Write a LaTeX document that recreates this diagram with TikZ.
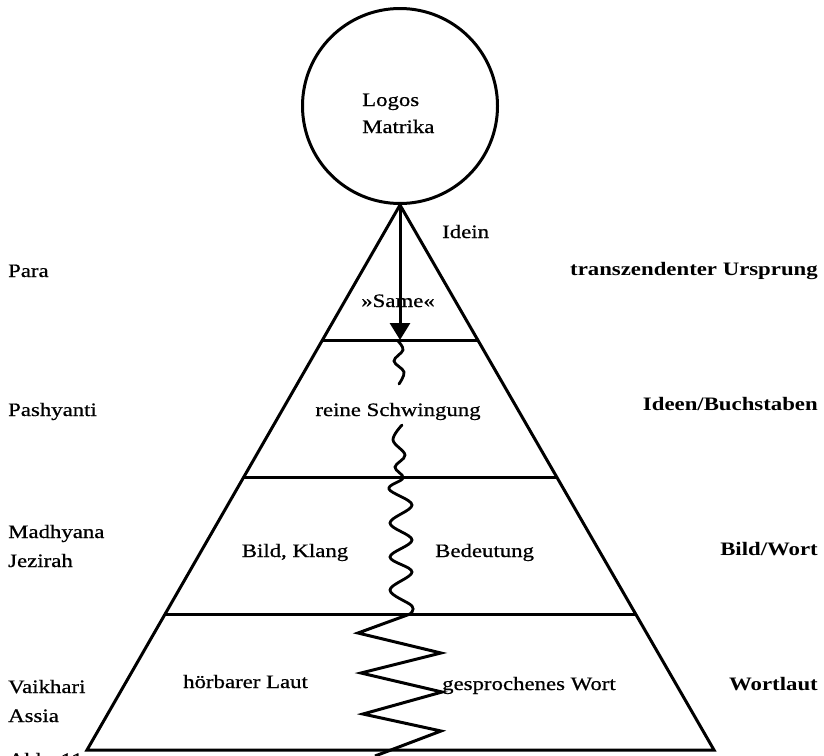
\documentclass[tikz,border=0pt]{standalone}
\usepackage{fontspec}
\setmainfont[FakeStretch=1.2]{Liberation Serif}
\newfontfamily\medfont[FakeStretch=1.2, FakeBold=0.7]{Liberation Serif}
\usetikzlibrary{arrows.meta}
\begin{document}
\begin{tikzpicture}[x=1pt,y=-1pt,
  thickline/.style={line width=3pt},
  wave/.style={line width=2.8pt, line cap=round},
  lbl/.style={inner sep=0pt, font=\fontsize{19}{23}\selectfont\medfont},
  lblL/.style={lbl, anchor=base west},
  lblR/.style={inner sep=0pt, anchor=base east, font=\fontsize{19}{23}\selectfont\bfseries},
  lblC/.style={lbl, anchor=base}]
\useasboundingbox (0,0) rectangle (824,755);
\clip (0,0) rectangle (824,755);
% circle
\node[circle, draw, thickline, minimum size=195pt, inner sep=0pt] (logos) at (400,106) {};
\node[lblL] (logosT) at (362,106) {Logos};
\node[lblL] (matrikaT) at (362,133) {Matrika};
% triangle
\coordinate (apex) at (logos.south);
\coordinate (bl) at (87,750);
\coordinate (br) at (714,750);
\draw[thickline, line join=miter] (bl) -- (apex) -- (br) -- cycle;
\coordinate (l1a) at (322,340); \coordinate (l1b) at (478,340);
\coordinate (l2a) at (243.5,477); \coordinate (l2b) at (557,477);
\coordinate (l3a) at (165,614); \coordinate (l3b) at (636,614);
\draw[thickline] (l1a) -- (l1b);
\draw[thickline] (l2a) -- (l2b);
\draw[thickline] (l3a) -- (l3b);
% arrow
\coordinate (arrowend) at (400,340);
\draw[thickline, -{Triangle[length=17pt,width=20pt]}] (apex) -- (arrowend);
% waves
\draw[wave] plot[smooth, tension=0.6] coordinates {(398,341) (403,350) (394,361) (404,372) (399,384)};
\draw[wave] plot[smooth, tension=0.6] coordinates {(402,425) (393,440) (405,455) (395,467) (403,478) (389,489) (412,505) (390,523) (412,540) (390,557) (412,572) (390,590) (412,606) (410,614)};
\coordinate (z0) at (410,614);
\draw[thickline, line join=miter] (z0) -- (358,633) -- (441,653) -- (361,673) -- (442,692) -- (363,714) -- (441,731) -- (375,756);
% labels
\node[lblL] (idein) at (442,238) {Idein};
\node[lblL] (para) at (8,277) {Para};
\node[lblR] (ursprung) at (818,275) {transzendenter Ursprung};
\node[lblC] (same) at (398,307) {»Same«};
\node[lblL] (pash) at (8,416) {Pashyanti};
\node[lblC] (reine) at (398,416) {reine Schwingung};
\node[lblR] (ideen) at (818,410) {Ideen/Buchstaben};
\node[lblL] (madh) at (8,538) {Madhyana};
\node[lblL] (jez) at (8,567) {Jezirah};
\node[lblC] (bild) at (295,557) {Bild, Klang};
\node[lblL] (bed) at (435,557) {Bedeutung};
\node[lblR] (bildwort) at (818,555) {Bild/Wort};
\node[lblL] (vaik) at (8,693) {Vaikhari};
\node[lblL] (assia) at (8,722) {Assia};
\node[lblL] (hoer) at (183,688) {hörbarer Laut};
\node[lblL] (gespr) at (442,690) {gesprochenes Wort};
\node[lblR] (wortlaut) at (818,690) {Wortlaut};
\node[lblL] (abb) at (8,766) {Abb. 11};
\end{tikzpicture}
\end{document}
